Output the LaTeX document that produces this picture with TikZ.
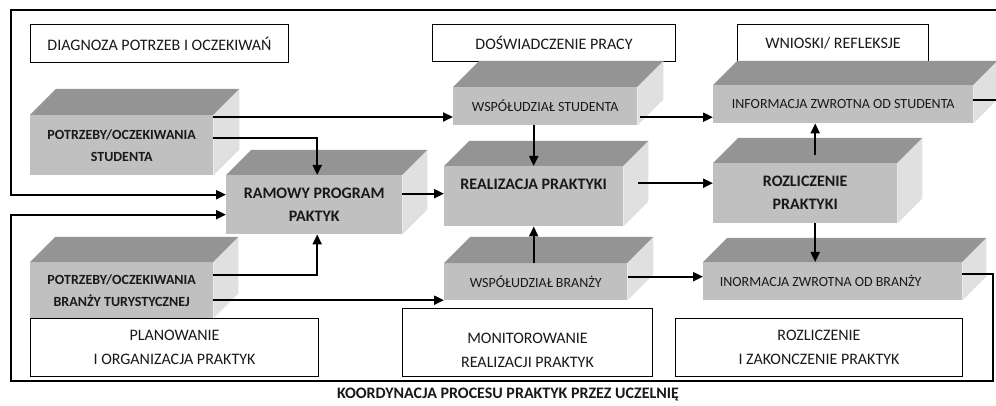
\documentclass[tikz,border=0pt]{standalone}
\usepackage{fontspec}
\setmainfont{Carlito}
\usepackage{tikz}
\usetikzlibrary{arrows.meta, positioning, calc}
\definecolor{frontgray}{RGB}{192,192,192}
\definecolor{topgray}{RGB}{148,148,148}
\definecolor{sidegray}{RGB}{224,224,224}
\definecolor{mydark}{RGB}{25,25,25}
\tikzset{
  dims/.style 2 args={minimum width=#1pt, minimum height=#2pt},
  facebox/.style={rectangle, fill=frontgray, inner sep=0pt,
    align=center, anchor=north west, text=mydark},
  boldbox/.style={facebox, font=\fontsize{14}{22}\selectfont\bfseries},
  bigbox/.style={facebox, font=\fontsize{16}{23}\selectfont\bfseries},
  thinbox/.style={facebox, font=\fontsize{14}{17}\selectfont},
  labelbox/.style={rectangle, draw=black, fill=white, inner sep=0pt,
    align=center, anchor=north west, line width=1pt, text=mydark,
    font=\fontsize{16}{24}\selectfont},
  arrow/.style={-{Triangle[length=10pt,width=9pt]}, line width=2pt, color=black}
}
% top and right faces of a box, #1 = front node, #2 = depth
\newcommand{\boxdepth}[2]{%
  \fill[topgray] (#1.north west) -- ++(#2,-#2) -- ($(#1.north east)+(#2,-#2)$) -- (#1.north east) -- cycle;
  \fill[sidegray] (#1.north east) -- ++(#2,-#2) -- ($(#1.south east)+(#2,-#2)$) -- (#1.south east) -- cycle;
}

\begin{document}
\begin{tikzpicture}[x=1pt, y=-1pt]
  \useasboundingbox (0,0) rectangle (996,406);

  % Stage labels
  \node[labelbox, dims={258}{38}] (diag) at (30,24) {DIAGNOZA POTRZEB I OCZEKIWAŃ};
  \node[labelbox, dims={243}{37}] (dosw) at (432,24) {DOŚWIADCZENIE PRACY};
  \node[labelbox, dims={191}{37}] (wnioski) at (737,24) {WNIOSKI/ REFLEKSJE};
  \node[labelbox, dims={288}{58}] (plan) at (30,318) {PLANOWANIE\\I ORGANIZACJA PRAKTYK};
  \node[labelbox, dims={250}{68}] (monit) at (402,308) {\rule{0pt}{27pt}MONITOROWANIE\\REALIZACJI PRAKTYK};
  \node[labelbox, dims={287}{58}] (zakon) at (675,318) {ROZLICZENIE\\I ZAKONCZENIE PRAKTYK};

  % Boxes
  \node[boldbox, dims={183}{60}] (stud) at (30,115) {POTRZEBY/OCZEKIWANIA\\STUDENTA};
  \boxdepth{stud}{26}
  \node[boldbox, dims={183}{56}] (branza) at (30,262) {POTRZEBY/OCZEKIWANIA\\BRANŻY TURYSTYCZNEJ};
  \boxdepth{branza}{25}
  \node[bigbox, dims={176}{59}] (ramowy) at (226,175) {RAMOWY PROGRAM\\PAKTYK};
  \boxdepth{ramowy}{25}
  \node[thinbox, dims={184}{38}] (wspS) at (453,87) {WSPÓŁUDZIAŁ STUDENTA};
  \boxdepth{wspS}{26}
  \node[bigbox, dims={179}{60}] (realiz) at (444,166) {REALIZACJA PRAKTYKI\\ \mbox{}};
  \boxdepth{realiz}{25}
  \node[thinbox, dims={183}{37}] (wspB) at (444,263) {WSPÓŁUDZIAŁ BRANŻY};
  \boxdepth{wspB}{26}
  \node[thinbox, dims={260}{38}] (infoS) at (713,85) {INFORMACJA ZWROTNA OD STUDENTA};
  \boxdepth{infoS}{24}
  \node[bigbox, dims={184}{60}] (rozl) at (713,163) {ROZLICZENIE\\PRAKTYKI};
  \boxdepth{rozl}{25}
  \node[thinbox, dims={259}{38}] (infoB) at (703,262) {INORMACJA ZWROTNA OD BRANŻY\rule{24pt}{0pt}};
  \boxdepth{infoB}{24}

  % Caption
  \node[font=\fontsize{16}{19}\selectfont\bfseries, text=mydark] (koord) at (508,395)
    {KOORDYNACJA PROCESU PRAKTYK PRZEZ UCZELNIĘ};

  % Loop corners
  \coordinate (tl) at (11,10);
  \coordinate (tr) at (999,10);
  \coordinate (bl) at (11,381);
  \coordinate (br) at (993,381);

  % Start points
  \coordinate (s1) at ([yshift=-2pt]stud.north east);
  \coordinate (s2) at ([yshift=-10pt]branza.east);
  \coordinate (s3) at ([yshift=11pt]ramowy.east);
  \coordinate (s4) at ([shift={(15pt,13pt)}]realiz.east);
  \coordinate (s5) at ([shift={(3pt,-11pt)}]wspS.east);
  \coordinate (s6) at ([shift={(1pt,5pt)}]wspB.east);
  \coordinate (s7) at ([shift={(10pt,8pt)}]rozl.north);
  \coordinate (s8) at ([xshift=10pt]rozl.south);

  % Planning
  \draw[arrow] ([yshift=7pt]stud.east) -| ([xshift=3pt]ramowy.north);
  \draw[arrow] ([yshift=15pt]branza.east) -| ([xshift=3pt]ramowy.south);
  \draw[arrow] (s1) -- (s1 -| wspS.west);
  \draw[arrow] (s2) -- (s2 -| wspB.west);
  \draw[arrow] (s3) -- (s3 -| realiz.west);

  % Realisation
  \draw[arrow] (wspS.south -| realiz.north) -- (realiz.north);
  \draw[arrow] (wspB.north -| realiz.south) -- (realiz.south);
  \draw[arrow] (s4) -- (s4 -| rozl.west);
  \draw[arrow] (s5) -- (s5 -| infoS.west);
  \draw[arrow] (s6) -- (s6 -| infoB.west);
  \draw[arrow] (s7) -- (s7 |- infoS.south);
  \draw[arrow] (s8) -- (s8 |- infoB.north);

  % Feedback loops
  \draw[arrow] ([yshift=4pt]infoS.east) -| (tr) -- (tl) |- ([yshift=10pt]ramowy.west);
  \draw[arrow] ([yshift=7pt]infoB.east) -| (br) -- (bl) |- ([yshift=-10pt]ramowy.west);
\end{tikzpicture}
\end{document}
